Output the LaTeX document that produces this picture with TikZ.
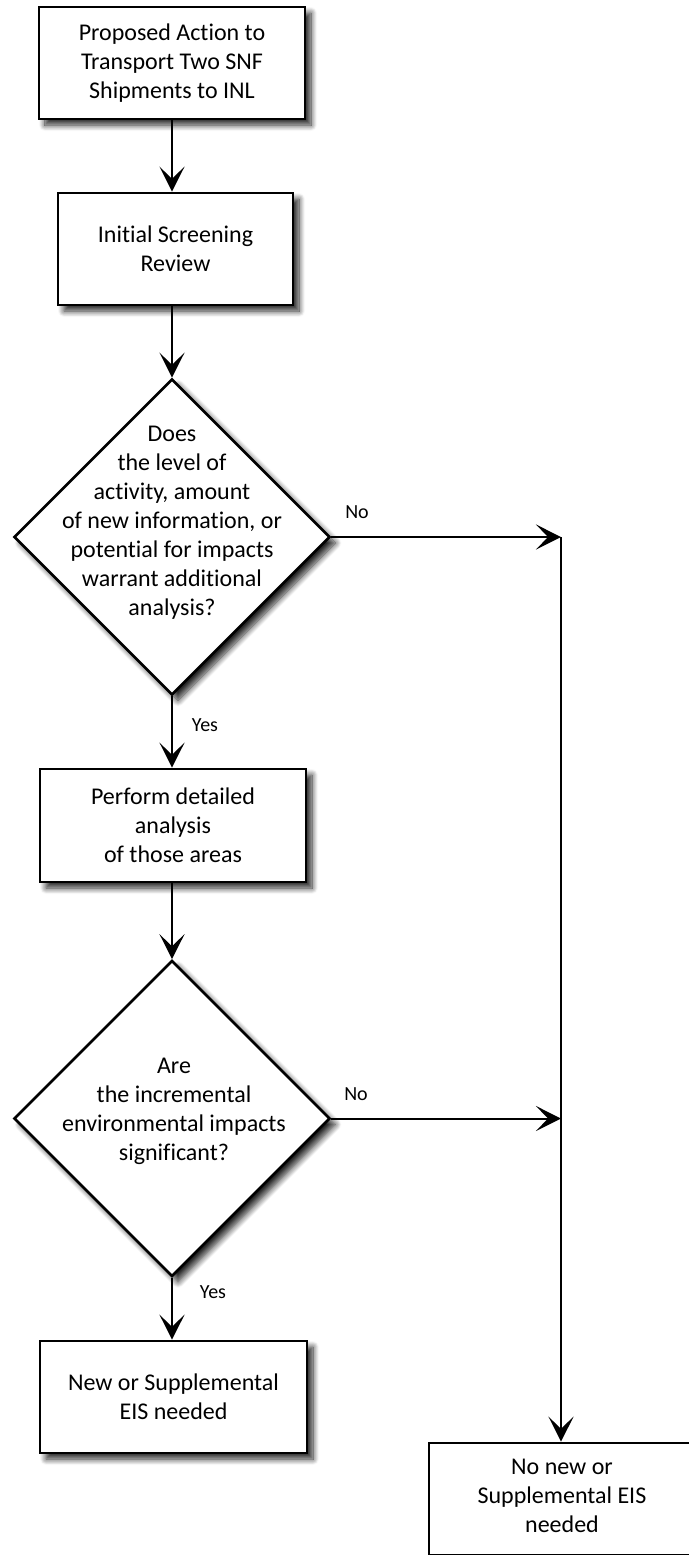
\documentclass[tikz,border=0pt]{standalone}
\usepackage{fontspec}
\setmainfont[Ligatures=NoCommon]{Carlito}
\usetikzlibrary{shapes.geometric,arrows.meta,shadows.blur}
\begin{document}
\begin{tikzpicture}[x=0.5pt,y=-0.5pt,
  shd/.style={blur shadow={shadow xshift=3pt, shadow yshift=-3pt, shadow blur radius=3pt, shadow blur steps=10, shadow opacity=85}},
  boxnode/.style={draw=black, line width=1.3pt, fill=white, rectangle, inner sep=0pt,
    align=center, font=\fontsize{12}{14.5}\selectfont, shd},
  decision/.style={draw=black, line width=1.3pt, fill=white, diamond, inner sep=0pt, aspect=1, shd},
  qtext/.style={align=center, font=\fontsize{12}{14.5}\selectfont, inner sep=0pt},
  lbl/.style={font=\fontsize{10}{12}\selectfont, inner sep=0pt},
  arr/.style={line width=1pt, -{Stealth[length=12.5pt, width=12.5pt, inset=6pt]}},
  plain/.style={line width=1pt}
]
\useasboundingbox (0,0) rectangle (689,1555);

\node[boxnode, minimum width=133pt, minimum height=56pt] (b1) at (172,63)
  {Proposed Action to\\Transport Two SNF\\Shipments to INL};
\node[boxnode, minimum width=117.5pt, minimum height=56pt] (b2) at (175.5,249)
  {Initial Screening\\Review};
\node[decision, minimum width=158pt, minimum height=158pt] (d1) at (172,537) {};
\node[qtext] (d1t) at (172,523)
  {Does\\the level of\\activity, amount\\of new information, or\\potential for impacts\\warrant additional\\analysis?};
\node[boxnode, minimum width=133pt, minimum height=56.5pt] (b3) at (173,825.5)
  {Perform detailed\\analysis\\of those areas};
\node[decision, minimum width=158pt, minimum height=158pt] (d2) at (172,1118.5) {};
\node[qtext] (d2t) at (174,1111)
  {Are\\the incremental\\environmental impacts\\significant?};
\node[boxnode, minimum width=133.5pt, minimum height=56pt] (b4) at (173.5,1397)
  {New or Supplemental\\EIS needed};
\node[boxnode, minimum width=145pt, minimum height=56pt] (b5) at (574,1499) {};
\node[qtext] (b5t) at (562,1496)
  {No new or\\Supplemental EIS\\needed};

\coordinate (j1) at (561,537);
\coordinate (j2) at (561,1118.5);

\draw[arr] (b1.south) -- (b1.south |- b2.north);
\draw[arr] (b1.south |- b2.south) -- (d1.north);
\draw[arr] (d1.south) -- (d1.south |- b3.north);
\draw[arr] (d1.south |- b3.south) -- (d2.north);
\draw[arr] (d2.south) -- (d2.south |- b4.north);
\draw[arr] (d1.east) -- (j1);
\draw[arr] (j1) -- (b5.north -| j1);
\draw[arr] (d2.east) -- (j2);

\node[lbl] (no1) at (357,512) {No};
\node[lbl] (yes1) at (205,725) {Yes};
\node[lbl] (no2) at (356,1094) {No};
\node[lbl] (yes2) at (213,1292) {Yes};
\end{tikzpicture}
\end{document}
